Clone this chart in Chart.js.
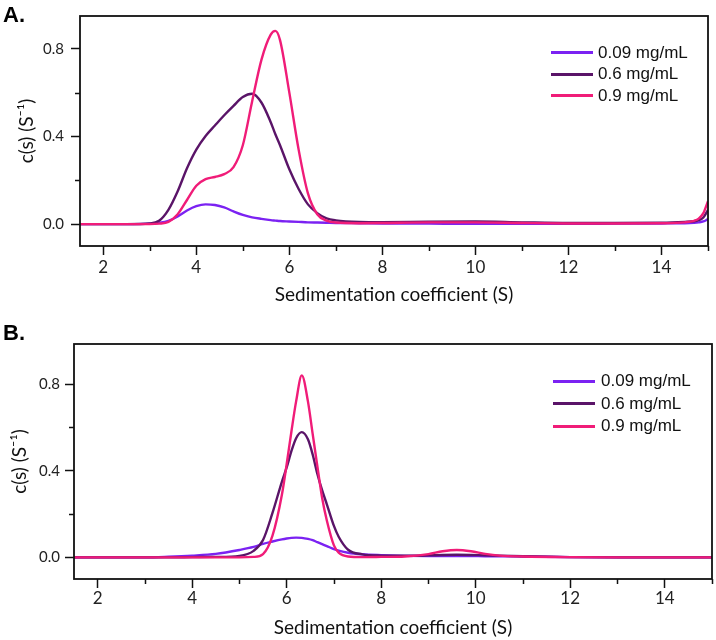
<!DOCTYPE html>
<html><head><meta charset="utf-8">
<script src="https://cdn.jsdelivr.net/npm/chart.js@4.4.1/dist/chart.umd.min.js"></script>
<style>
html,body{margin:0;padding:0;background:#fff;}
#wrap{position:relative;width:716px;height:640px;overflow:hidden;background:#fff;}
.panel{position:absolute;left:0;width:716px;height:320px;}
.plabel{position:absolute;font:bold 22px "Liberation Sans",Arial,sans-serif;color:#000;line-height:1;}
.legend{position:absolute;font:17px "Liberation Sans",Arial,sans-serif;color:#111;}
.legend .row{display:flex;align-items:center;white-space:nowrap;}
.legend .sw{width:42px;height:3px;}
</style></head>
<body>
<div id="wrap">
  <div class="panel" style="top:0"><canvas id="cA" width="716" height="320"></canvas></div>
  <div class="panel" style="top:320px"><canvas id="cB" width="716" height="320"></canvas></div>
  <div class="plabel" style="left:3px;top:4px">A.</div>
  <div class="plabel" style="left:3px;top:322px">B.</div>
  <div class="legend" id="legA" style="left:551px;top:42px"></div>
  <div class="legend" id="legB" style="left:553px;top:370px"></div>
</div>
<script>
// ---------- Data ----------
const SERIES_LABELS = ['0.09 mg/mL', '0.6 mg/mL', '0.9 mg/mL'];
const SERIES_COLORS = ['#7b22f2', '#5a1468', '#f01c78'];

const X_TITLE = 'Sedimentation coefficient (S)';
const Y_TITLE = 'c(s) (S\u207B\u00B9)';
const X_MAJOR = [2, 4, 6, 8, 10, 12, 14];
const X_MINOR = [3, 5, 7, 9, 11, 13, 15];
const Y_MAJOR = [0, 0.4, 0.8];
const Y_MINOR = [0.2, 0.6];

// Panel A
const xA = [1.5, 2.5, 3.0, 3.2, 3.4, 3.6, 3.8, 4.0, 4.2, 4.4, 4.6, 4.8, 5.0, 5.2, 5.4, 5.6, 5.7, 5.8, 6.0, 6.2, 6.4, 6.6, 6.8, 7.0, 7.5, 8, 9, 10, 11, 12, 13, 14, 14.5, 14.7, 14.8, 14.9, 15];
const blueA = [0, 0, 0.002, 0.006, 0.015, 0.035, 0.062, 0.082, 0.090, 0.087, 0.076, 0.058, 0.042, 0.031, 0.024, 0.018, 0.016, 0.014, 0.012, 0.010, 0.008, 0.007, 0.006, 0.005, 0.004, 0.003, 0.002, 0.001, 0.001, 0.001, 0.002, 0.003, 0.004, 0.006, 0.008, 0.012, 0.023];
const purpleA = [0, 0, 0.003, 0.015, 0.065, 0.15, 0.255, 0.34, 0.402, 0.45, 0.497, 0.54, 0.58, 0.595, 0.555, 0.465, 0.41, 0.36, 0.25, 0.16, 0.09, 0.05, 0.026, 0.017, 0.010, 0.009, 0.011, 0.012, 0.008, 0.005, 0.005, 0.006, 0.010, 0.013, 0.018, 0.030, 0.065];
const pinkA = [0, 0, 0, 0.002, 0.01, 0.045, 0.11, 0.175, 0.205, 0.215, 0.228, 0.26, 0.36, 0.56, 0.75, 0.865, 0.882, 0.84, 0.60, 0.34, 0.14, 0.045, 0.016, 0.007, 0.004, 0.005, 0.008, 0.008, 0.005, 0.003, 0.003, 0.004, 0.008, 0.015, 0.025, 0.05, 0.105];

// Panel B
const xB = [1.5, 3.0, 3.5, 4.0, 4.5, 5.0, 5.3, 5.5, 5.7, 5.9, 6.0, 6.1, 6.2, 6.32, 6.45, 6.55, 6.65, 6.75, 6.85, 7.0, 7.1, 7.3, 7.6, 8.0, 8.5, 9.0, 9.3, 9.6, 9.9, 10.2, 10.5, 11, 12, 13, 15];
const blueB = [0, 0, 0.003, 0.008, 0.016, 0.034, 0.048, 0.062, 0.073, 0.083, 0.087, 0.090, 0.091, 0.090, 0.085, 0.079, 0.070, 0.061, 0.052, 0.038, 0.031, 0.021, 0.014, 0.010, 0.007, 0.006, 0.006, 0.006, 0.006, 0.005, 0.005, 0.004, 0.001, 0, 0];
const purpleB = [0, 0, 0, 0.001, 0.002, 0.007, 0.03, 0.08, 0.205, 0.35, 0.415, 0.49, 0.55, 0.578, 0.545, 0.475, 0.385, 0.31, 0.245, 0.145, 0.095, 0.035, 0.014, 0.008, 0.007, 0.009, 0.011, 0.012, 0.011, 0.009, 0.008, 0.005, 0.001, 0, 0];
const pinkB = [0, 0, 0, 0, 0, 0, 0.002, 0.015, 0.10, 0.29, 0.43, 0.58, 0.72, 0.84, 0.72, 0.57, 0.42, 0.275, 0.17, 0.055, 0.022, 0.004, 0.001, 0.002, 0.004, 0.015, 0.028, 0.034, 0.028, 0.016, 0.008, 0.004, 0.001, 0, 0];

// ---------- Rendering ----------
const framePlugin = {
  id: 'frame',
  afterDraw(chart) {
    const {ctx, chartArea: a, scales} = chart;
    ctx.save();
    ctx.strokeStyle = '#111';
    ctx.lineWidth = 1.8;
    ctx.strokeRect(a.left, a.top, a.right - a.left, a.bottom - a.top);
    ctx.lineWidth = 1.5;
    ctx.beginPath();
    X_MINOR.forEach(v => {
      const px = Math.round(scales.x.getPixelForValue(v)) + 0.5;
      ctx.moveTo(px, a.bottom); ctx.lineTo(px, a.bottom + 5);
    });
    Y_MINOR.forEach(v => {
      const py = Math.round(scales.y.getPixelForValue(v)) + 0.5;
      ctx.moveTo(a.left, py); ctx.lineTo(a.left - 5, py);
    });
    ctx.stroke();
    ctx.restore();
  }
};

function makeChart(id, xs, series, cfg) {
  const datasets = series.map((s, i) => ({
    label: SERIES_LABELS[i],
    data: xs.map((x, j) => ({x: x, y: s[j]})),
    borderColor: SERIES_COLORS[i],
    backgroundColor: SERIES_COLORS[i],
    borderWidth: 2.4,
    pointRadius: 0,
    fill: false,
    cubicInterpolationMode: 'monotone',
    order: series.length - 1 - i
  }));
  return new Chart(document.getElementById(id), {
    type: 'line',
    data: {datasets},
    options: {
      responsive: false,
      animation: false,
      layout: {padding: {left: 0, right: cfg.padRight, top: cfg.padTop, bottom: 0}},
      plugins: {legend: {display: false}, tooltip: {enabled: false}},
      scales: {
        x: {
          type: 'linear', min: 1.5, max: 15,
          afterBuildTicks: s => { s.ticks = X_MAJOR.map(v => ({value: v})); },
          afterFit: s => { s.height = cfg.xHeight; },
          grid: {display: true, drawOnChartArea: false, drawTicks: true, tickLength: 9, tickColor: '#111', tickWidth: 1.5},
          border: {display: false},
          ticks: {autoSkip: false, maxRotation: 0, padding: cfg.xTickPad, color: '#222',
                  font: {family: 'Lato', size: 17}, callback: v => String(v)},
          title: {display: true, text: X_TITLE, color: '#111', font: {family: 'Lato', size: 19},
                  padding: {top: 0, bottom: cfg.xTitlePad}}
        },
        y: {
          type: 'linear', min: -0.1, max: cfg.yMax,
          afterBuildTicks: s => { s.ticks = Y_MAJOR.map(v => ({value: v})); },
          afterFit: s => { s.width = cfg.yWidth; },
          grid: {display: true, drawOnChartArea: false, drawTicks: true, tickLength: 9, tickColor: '#111', tickWidth: 1.5},
          border: {display: false},
          ticks: {autoSkip: false, padding: cfg.yTickPad, color: '#222',
                  font: {family: 'Lato', size: 15}, callback: v => Number(v).toFixed(1)},
          title: {display: true, text: Y_TITLE, color: '#111', font: {family: 'Lato', size: 19},
                  padding: {top: cfg.yTitlePad, bottom: 0}}
        }
      }
    },
    plugins: [framePlugin]
  });
}

makeChart('cA', xA, [blueA, purpleA, pinkA],
  {padTop: 15, padRight: 8, xHeight: 74, yWidth: 80, yMax: 0.95, xTickPad: 2, xTitlePad: 14, yTickPad: 7, yTitlePad: 15});
makeChart('cB', xB, [blueB, purpleB, pinkB],
  {padTop: 24, padRight: 4, xHeight: 61, yWidth: 74, yMax: 0.985, xTickPad: 0, xTitlePad: 1, yTickPad: 5, yTitlePad: 8});

function buildLegend(elId, rowH, gap) {
  const el = document.getElementById(elId);
  SERIES_LABELS.forEach((lab, i) => {
    const row = document.createElement('div');
    row.className = 'row';
    row.style.height = rowH + 'px';
    const sw = document.createElement('span');
    sw.className = 'sw';
    sw.style.background = SERIES_COLORS[i];
    sw.style.marginRight = gap + 'px';
    const tx = document.createElement('span');
    tx.textContent = lab;
    row.appendChild(sw); row.appendChild(tx);
    el.appendChild(row);
  });
}
buildLegend('legA', 21.5, 5);
buildLegend('legB', 22.5, 6);
</script>
</body></html>
